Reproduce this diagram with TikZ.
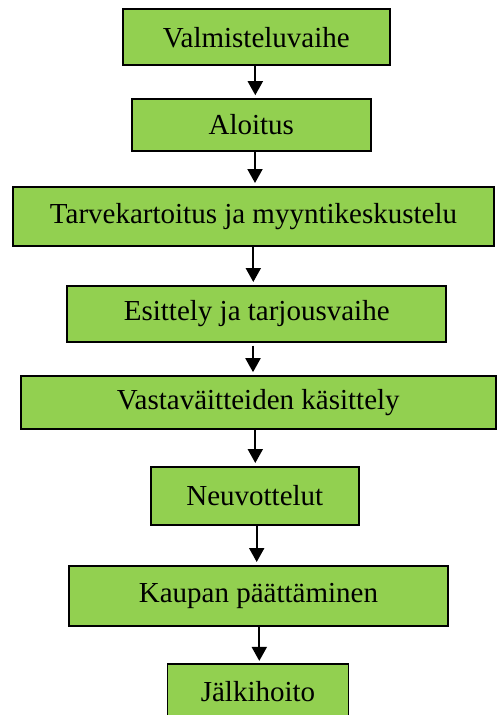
\documentclass[tikz,border=0pt]{standalone}
\usepackage{fontspec}
\setmainfont{Liberation Serif}
\usetikzlibrary{arrows.meta}
\definecolor{stepgreen}{HTML}{92D050}
\begin{document}
\begin{tikzpicture}[x=1pt,y=-1pt,
  stepbox/.style={draw=black, line width=1.6pt, fill=stepgreen, rectangle,
    inner sep=0pt, text=black, font=\fontsize{29}{34}\selectfont},
  flow/.style={line width=2pt, -{Triangle[width=15pt,length=14pt]},
    shorten >=3pt}]
  \useasboundingbox (0,0) rectangle (498,715);
  \begin{scope}
  \clip (0,0) rectangle (498,715);
  \node[stepbox, minimum width=267pt, minimum height=56pt] (s1) at (256.3,37.2) {Valmisteluvaihe};
  \node[stepbox, minimum width=239pt, minimum height=52pt] (s2) at (251.3,125) {Aloitus};
  \node[stepbox, minimum width=481pt, minimum height=59pt] (s3) at (253.5,216.3) {Tarvekartoitus ja myyntikeskustelu};
  \node[stepbox, minimum width=379pt, minimum height=56pt] (s4) at (256.7,313.8) {Esittely ja tarjousvaihe};
  \node[stepbox, minimum width=475pt, minimum height=53pt] (s5) at (258.3,402.5) {Vastaväitteiden käsittely};
  \node[stepbox, minimum width=208pt, minimum height=58pt] (s6) at (254.8,495.8) {Neuvottelut};
  \node[stepbox, minimum width=379pt, minimum height=60pt] (s7) at (258.5,595.8) {Kaupan päättäminen};
  \node[stepbox, minimum width=181pt, minimum height=56pt] (s8) at (258,691.7) {Jälkihoito};
  \end{scope}
  % vertical positions of the connecting arrows
  \coordinate (c1) at (255.3,0);
  \coordinate (c2) at (255,0);
  \coordinate (c3) at (253.3,0);
  \coordinate (c4) at (253,0);
  \coordinate (c5) at (255.3,0);
  \coordinate (c6) at (256.7,0);
  \coordinate (c7) at (259.3,0);
  \draw[flow] (s1.south -| c1) -- (s2.north -| c1);
  \draw[flow] (s2.south -| c2) -- (s3.north -| c2);
  \draw[flow] (s3.south -| c3) -- (s4.north -| c3);
  \draw[flow, shorten <=3pt] (s4.south -| c4) -- (s5.north -| c4);
  \draw[flow] (s5.south -| c5) -- (s6.north -| c5);
  \draw[flow] (s6.south -| c6) -- (s7.north -| c6);
  \draw[flow, shorten >=2pt] (s7.south -| c7) -- (s8.north -| c7);
\end{tikzpicture}
\end{document}
